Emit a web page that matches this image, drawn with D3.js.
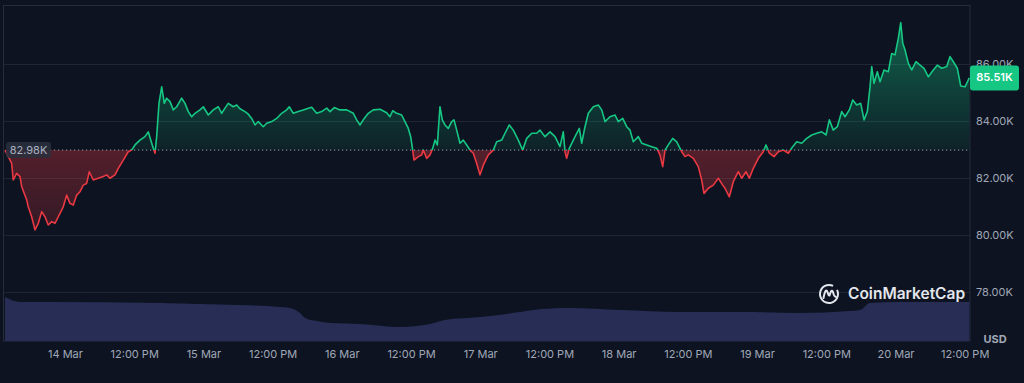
<!DOCTYPE html>
<html>
<head>
<meta charset="utf-8">
<script src="https://cdn.jsdelivr.net/npm/d3@7"></script>
<style>
  html, body { margin: 0; padding: 0; background: #0d1320; }
  svg { display: block; }
  text { font-family: Inter, "Noto Sans", sans-serif; }
</style>
</head>
<body>
<svg id="chart" width="1024" height="383"></svg>
<script>
// ---- Data (hours since 13 Mar 00:00, price in thousands USD) ----
const priceHours = [13.6,14.76,15.03,15.62,16.2,16.49,17.36,17.63,18.22,18.8,19.37,19.96,20.53,21.1,21.69,22.26,22.84,23.7,24.29,24.87,25.44,26.03,26.6,27.17,27.76,28.21,28.91,29.77,30.64,31.23,31.8,32.67,33.24,34.11,34.97,35.56,36.14,37.0,37.87,38.44,38.86,39.31,39.61,39.9,40.3,40.77,41.22,41.63,42.21,42.78,43.37,44.23,44.81,45.38,45.97,46.54,47.41,47.98,48.85,49.71,50.58,51.17,51.74,52.31,53.18,53.77,54.34,55.21,55.73,56.37,56.95,57.52,58.38,58.97,59.84,60.71,61.57,62.44,62.89,63.59,64.45,65.32,66.19,66.78,67.64,68.51,69.38,69.95,70.7,71.68,72.85,73.99,74.58,75.15,75.72,76.59,77.46,78.62,79.78,80.35,80.82,81.52,82.38,82.95,83.53,83.94,84.29,84.52,85.26,85.85,86.13,86.72,87.29,87.76,88.16,88.56,89.02,89.42,89.89,90.46,91.05,91.45,91.92,92.49,93.06,93.65,94.23,94.8,95.39,95.96,96.53,97.4,98.27,98.86,99.72,100.3,101.04,101.73,102.6,103.36,104.06,104.93,105.79,106.36,107.23,108.1,108.97,109.83,110.4,110.7,110.99,111.44,112.14,112.73,113.18,113.59,114.17,114.74,115.61,116.47,117.06,117.64,118.5,119.37,119.94,120.7,121.4,121.97,122.54,123.41,124.0,124.87,125.73,126.6,127.17,127.64,128.04,128.61,129.37,130.07,130.94,131.51,132.08,132.95,133.81,134.4,134.8,135.55,136.41,137.28,138.04,138.44,139.19,139.88,140.75,141.34,142.08,142.66,143.35,144.22,145.08,145.55,146.13,146.94,147.69,148.55,149.42,150.18,150.88,151.74,152.61,153.48,154.34,155.21,155.96,156.53,157.22,157.92,158.68,159.25,160.0,160.59,161.28,161.97,162.55,163.12,163.59,163.88,164.28,164.85,165.32,166.01,166.76,167.35,167.92,168.49,168.91,169.26,169.66,170.23,170.82,171.56,172.26,172.95,173.7,174.56,175.25,176.02,176.89,177.46,178.03,178.72,179.31,180.06,180.8];
const priceValues = [82.98,82.51,81.93,82.16,82.05,81.7,81.23,80.99,80.64,80.18,80.41,80.82,80.64,80.35,80.47,80.41,80.64,80.99,81.4,81.11,81.05,81.4,81.52,81.75,81.81,82.22,81.93,81.99,82.05,82.11,81.99,82.11,82.34,82.63,82.92,82.98,83.16,83.33,83.45,83.62,83.33,83.04,82.87,83.45,84.62,85.2,84.62,84.8,84.68,84.39,84.5,84.8,84.62,84.33,84.15,84.27,84.39,84.5,84.21,84.39,84.5,84.27,84.45,84.62,84.5,84.56,84.43,84.33,84.25,84.09,83.86,83.98,83.8,83.92,83.98,84.09,84.27,84.39,84.5,84.27,84.33,84.39,84.45,84.48,84.27,84.33,84.45,84.33,84.47,84.39,84.39,84.27,84.04,83.86,84.04,84.27,84.39,84.41,84.29,84.15,84.36,84.27,84.21,83.98,83.74,83.45,82.98,82.63,82.75,82.81,82.98,82.69,82.81,83.04,83.33,83.16,84.5,84.04,83.86,83.74,83.98,84.04,83.68,83.22,83.33,83.16,82.98,82.87,82.51,82.11,82.45,82.81,82.98,83.27,83.33,83.57,83.86,83.68,83.33,82.98,83.39,83.57,83.57,83.68,83.45,83.62,83.45,83.1,83.62,82.92,82.69,83.04,83.33,83.57,83.74,83.22,83.8,84.27,84.5,84.56,84.39,83.98,84.15,84.21,83.98,84.09,83.8,83.68,83.27,83.45,83.22,83.16,83.1,83.04,82.81,82.4,82.98,83.16,83.39,83.27,82.92,82.75,82.81,82.69,82.4,81.93,81.46,81.64,81.75,81.99,81.75,81.64,81.34,81.87,82.22,81.99,82.22,81.99,82.34,82.69,82.92,83.16,82.87,82.75,82.92,82.98,82.87,83.1,83.27,83.22,83.39,83.51,83.57,83.62,83.51,84.04,83.68,83.8,84.33,84.15,84.39,84.74,84.56,84.62,84.04,84.33,85.2,85.91,85.32,85.73,85.38,85.79,85.73,86.37,86.32,86.9,87.45,86.73,86.49,86.02,85.79,86.08,85.96,85.85,85.55,85.79,85.96,85.85,85.91,86.26,86.08,85.85,85.23,85.2,85.51];
const volumeHours = [13.6,16.2,21.4,40.47,47.41,61.28,63.02,64.75,65.62,67.7,69.96,75.15,82.09,87.29,89.89,95.96,102.9,105.15,111.57,120.24,130.64,141.05,151.45,160.12,161.86,163.59,168.8,180.8];
const volumeValues = [44,39,39,38,37,34,33,28,23,20,18,17,14,17,21,24,29,31,33,31,29,29,28,30,31,38,39,39];
const yTickValues = [78, 80, 82, 84, 86];
const baselinePrice = 82.98;
const lastPrice = 85.51;
const currencyLabel = "USD";
const brandName = "CoinMarketCap";

// ---- Setup ----
const W = 1024, H = 383;
const plotLeft = 4, plotRight = 970, plotTop = 5.5, plotBottom = 341;
const base = new Date(2025, 2, 13, 0, 0, 0);
const toDate = h => new Date(base.getTime() + h * 3600000);

const x = d3.scaleTime()
  .domain([toDate(priceHours[0]), toDate(priceHours[priceHours.length - 1])])
  .range([5, 969.3]);
const y = d3.scaleLinear().domain([78, 86]).range([292, 64]);
const yVol = d3.scaleLinear().domain([0, 50]).range([341, 291]);

const prices = priceHours.map((h, i) => ({ t: toDate(h), p: priceValues[i] }));
const vols = volumeHours.map((h, i) => ({ t: toDate(h), v: volumeValues[i] }));

const svg = d3.select("#chart");
svg.append("rect").attr("width", W).attr("height", H).attr("fill", "#0d1320");

const defs = svg.append("defs");
const baseY = y(baselinePrice);

const gGreen = defs.append("linearGradient").attr("id", "gGreen")
  .attr("gradientUnits", "userSpaceOnUse").attr("x1", 0).attr("x2", 0)
  .attr("y1", y(87.5)).attr("y2", baseY);
gGreen.append("stop").attr("offset", 0).attr("stop-color", "#16c784").attr("stop-opacity", 0.45);
gGreen.append("stop").attr("offset", 1).attr("stop-color", "#16c784").attr("stop-opacity", 0.08);

const gRed = defs.append("linearGradient").attr("id", "gRed")
  .attr("gradientUnits", "userSpaceOnUse").attr("x1", 0).attr("x2", 0)
  .attr("y1", baseY).attr("y2", y(80));
gRed.append("stop").attr("offset", 0).attr("stop-color", "#ea3943").attr("stop-opacity", 0.32);
gRed.append("stop").attr("offset", 1).attr("stop-color", "#ea3943").attr("stop-opacity", 0.16);

defs.append("clipPath").attr("id", "clipAbove").append("rect")
  .attr("x", 0).attr("y", 0).attr("width", plotRight).attr("height", baseY);
defs.append("clipPath").attr("id", "clipBelow").append("rect")
  .attr("x", 0).attr("y", baseY).attr("width", plotRight).attr("height", H - baseY);

// gridlines
svg.append("g").selectAll("line").data(yTickValues).join("line")
  .attr("x1", plotLeft).attr("x2", plotRight)
  .attr("y1", d => Math.round(y(d)) + 0.5).attr("y2", d => Math.round(y(d)) + 0.5)
  .attr("stroke", "#1f2735").attr("stroke-width", 1);

// frame
svg.append("rect").attr("x", 3.5).attr("y", plotTop).attr("width", plotRight - 3.5).attr("height", plotBottom - plotTop)
  .attr("fill", "none").attr("stroke", "#252d3c").attr("stroke-width", 1);

// volume
const volArea = d3.area().x(d => x(d.t)).y0(yVol(0)).y1(d => yVol(d.v)).curve(d3.curveMonotoneX);
svg.append("path").datum(vols).attr("d", volArea).attr("fill", "#272d55");

// price areas
const area = d3.area().x(d => x(d.t)).y0(baseY).y1(d => y(d.p));
svg.append("path").datum(prices).attr("d", area).attr("fill", "url(#gGreen)").attr("clip-path", "url(#clipAbove)");
svg.append("path").datum(prices).attr("d", area).attr("fill", "url(#gRed)").attr("clip-path", "url(#clipBelow)");

// baseline dotted
svg.append("line").attr("x1", 50).attr("x2", plotRight).attr("y1", baseY).attr("y2", baseY)
  .attr("stroke", "#9aa3b5").attr("stroke-width", 1).attr("stroke-dasharray", "1.2,2.8");

// price line
const line = d3.line().x(d => x(d.t)).y(d => y(d.p));
svg.append("path").datum(prices).attr("d", line).attr("fill", "none")
  .attr("stroke", "#16c784").attr("stroke-width", 1.6).attr("stroke-linejoin", "round")
  .attr("clip-path", "url(#clipAbove)");
svg.append("path").datum(prices).attr("d", line).attr("fill", "none")
  .attr("stroke", "#ea3943").attr("stroke-width", 1.6).attr("stroke-linejoin", "round")
  .attr("clip-path", "url(#clipBelow)");

// y axis labels
const fmtK = d => d3.format(".2f")(d) + "K";
const yAxis = d3.axisRight(y).tickValues(yTickValues).tickFormat(fmtK).tickSize(0).tickPadding(6);
const gy = svg.append("g").attr("transform", `translate(${plotRight},0)`).call(yAxis);
gy.select(".domain").remove();
gy.selectAll("text").attr("fill", "#a0a8b8").attr("font-size", 11).attr("font-family", "Inter, sans-serif");

// x axis labels
const xTicks = d3.timeHour.every(12).range(toDate(24), toDate(181));
const fmtX = d => d.getHours() === 0 ? d3.timeFormat("%-d %b")(d) : d3.timeFormat("%-I:%M %p")(d);
const xAxis = d3.axisBottom(x).tickValues(xTicks).tickFormat(fmtX).tickSize(0).tickPadding(9);
const gx = svg.append("g").attr("transform", `translate(0,${plotBottom})`).call(xAxis);
gx.select(".domain").remove();
gx.selectAll("text").attr("fill", "#a0a8b8").attr("font-size", 11).attr("font-family", "Inter, sans-serif");

// USD label
svg.append("text").attr("x", 995).attr("y", 340).attr("text-anchor", "middle")
  .attr("dominant-baseline", "middle").attr("fill", "#a0a8b8").attr("font-size", 11)
  .attr("font-weight", 700).text(currencyLabel);

// left baseline label
const bl = svg.append("g");
bl.append("rect").attr("x", 6).attr("y", baseY - 8).attr("width", 45).attr("height", 16).attr("rx", 3)
  .attr("fill", "#2a303d").attr("fill-opacity", 0.85);
bl.append("text").attr("x", 28.5).attr("y", baseY + 0.5).attr("text-anchor", "middle")
  .attr("dominant-baseline", "middle").attr("fill", "#a9b1c1").attr("font-size", 11)
  .text(fmtK(baselinePrice));

// right last price label
const yl = y(lastPrice);
svg.append("rect").attr("x", plotRight).attr("y", yl - 12.5).attr("width", 49).attr("height", 25).attr("rx", 3)
  .attr("fill", "#16c784");
svg.append("text").attr("x", plotRight + 24.5).attr("y", yl + 0.5).attr("text-anchor", "middle")
  .attr("dominant-baseline", "middle").attr("fill", "#ffffff").attr("font-size", 11)
  .attr("font-weight", 600).text(fmtK(lastPrice));

// brand logo
const lg = svg.append("g").attr("transform", "translate(829,294)");
lg.append("path").attr("d", d3.arc()({ innerRadius: 8, outerRadius: 10, startAngle: 0.35 * Math.PI, endAngle: 2.15 * Math.PI }))
  .attr("fill", "#e3e6ec");
lg.append("path").attr("d", "M-5.5,4 C-4.5,-1 -3.5,-5 -2,-3 C-1,-1 -0.5,2 0.5,1.5 C1.5,-2 2.5,-5 4,-2 C4.5,0 5,3 7,3")
  .attr("fill", "none").attr("stroke", "#e3e6ec").attr("stroke-width", 2).attr("stroke-linecap", "round");
svg.append("text").attr("x", 848).attr("y", 295).attr("dominant-baseline", "middle")
  .attr("fill", "#e3e6ec").attr("font-size", 15.5).attr("font-weight", 600)
  .attr("font-family", "Inter, sans-serif").text(brandName);
</script>
</body>
</html>
